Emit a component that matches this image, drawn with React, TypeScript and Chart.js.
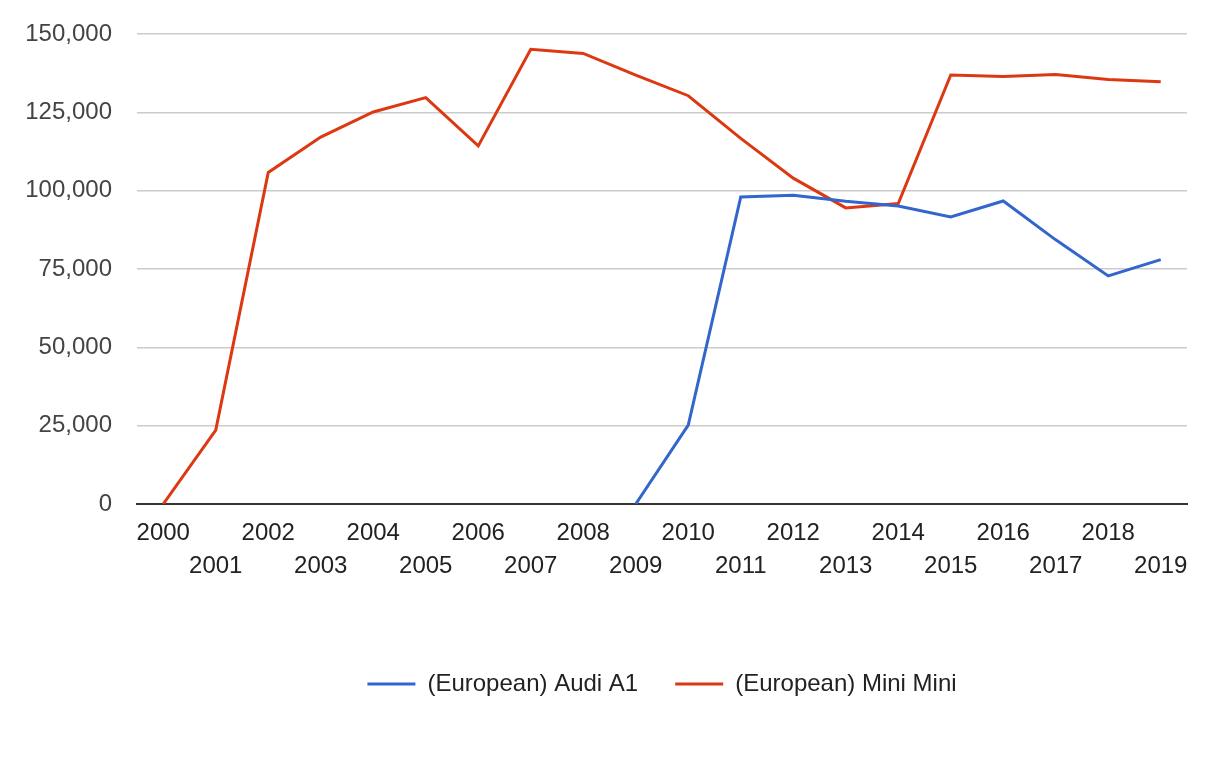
import React, { useEffect, useRef } from "react";
import { Chart, registerables } from "chart.js";

Chart.register(...registerables);

const years: string[] = [
  "2000", "2001", "2002", "2003", "2004", "2005", "2006", "2007", "2008", "2009",
  "2010", "2011", "2012", "2013", "2014", "2015", "2016", "2017", "2018", "2019",
];

const audiA1: (number | null)[] = [
  null, null, null, null, null, null, null, null, null, 0,
  25200, 98000, 98500, 96600, 95100, 91600, 96700, 84300, 72800, 78000,
];

const miniMini: number[] = [
  0, 23600, 105800, 117100, 125100, 129700, 114300, 145100, 143800, 136900,
  130300, 116700, 104000, 94500, 95900, 136900, 136400, 137100, 135500, 134800,
];

const yTicks: number[] = [0, 25000, 50000, 75000, 100000, 125000, 150000];

const FONT = "'Liberation Sans', Arial, sans-serif";

export default function App() {
  const ref = useRef<HTMLCanvasElement | null>(null);

  useEffect(() => {
    if (!ref.current) return;
    const labels = years.map((y, i) => (i % 2 === 0 ? y : ["", y]));
    const chart = new Chart(ref.current, {
      type: "line",
      data: {
        labels,
        datasets: [
          {
            label: "(European) Audi A1",
            data: audiA1,
            borderColor: "#3366cc",
            backgroundColor: "#3366cc",
            borderWidth: 3,
            pointRadius: 0,
            tension: 0,
            spanGaps: false,
          },
          {
            label: "(European) Mini Mini",
            data: miniMini,
            borderColor: "#dc3912",
            backgroundColor: "#dc3912",
            borderWidth: 3,
            pointRadius: 0,
            tension: 0,
          },
        ],
      },
      options: {
        responsive: false,
        animation: false,
        layout: { padding: { left: 0, right: 38, top: 30, bottom: 52 } },
        plugins: {
          tooltip: { enabled: false },
          legend: {
            position: "bottom",
            fullSize: false,
            labels: {
              usePointStyle: true,
              pointStyle: "line",
              pointStyleWidth: 48,
              boxHeight: 24,
              padding: 37,
              color: "#222222",
              font: { family: FONT, size: 24 },
            },
          },
        },
        scales: {
          x: {
            offset: true,
            grid: { display: false, drawTicks: false },
            border: { display: true, color: "#333333", width: 2 },
            ticks: {
              autoSkip: false,
              maxRotation: 0,
              minRotation: 0,
              padding: 13,
              color: "#222222",
              font: { family: FONT, size: 24, lineHeight: 1.375 },
            },
            afterFit: (s: any) => {
              s.height = 131;
            },
          },
          y: {
            min: 0,
            max: 150000,
            afterBuildTicks: (s: any) => {
              s.ticks = yTicks.map((v) => ({ value: v }));
            },
            grid: { color: "#cccccc", lineWidth: 1.5, drawTicks: false },
            border: { display: false },
            ticks: {
              padding: 25,
              color: "#444444",
              font: { family: FONT, size: 24, lineHeight: 0.75 },
              callback: (v: any) => Number(v).toLocaleString("en-US"),
            },
            afterFit: (s: any) => {
              s.width = 137;
            },
          },
        },
      },
    });
    return () => chart.destroy();
  }, []);

  return (
    <div style={{ position: "absolute", left: 0, top: 0, width: 1225, height: 758, background: "#fff" }}>
      <canvas ref={ref} width={1225} height={758} style={{ display: "block" }} />
    </div>
  );
}
